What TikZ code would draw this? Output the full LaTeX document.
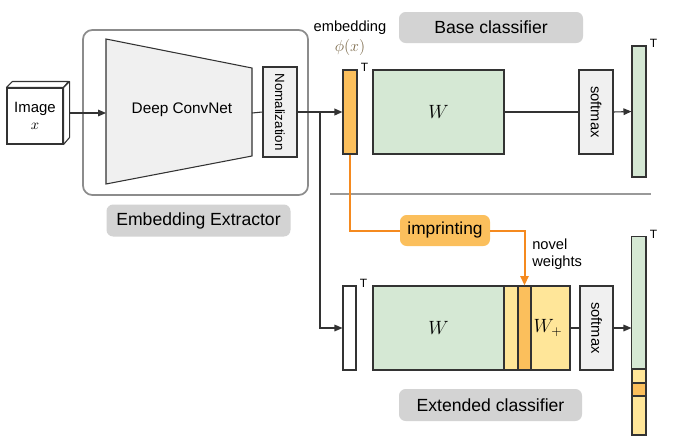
\documentclass[tikz,border=0pt]{standalone}
\usepackage{fontspec}
\setmainfont{Liberation Sans}
\usetikzlibrary{arrows.meta,calc}
\definecolor{boxgreen}{HTML}{D5E8D4}
\definecolor{boxgray}{HTML}{F0F0F0}
\definecolor{lblgray}{HTML}{D3D3D3}
\definecolor{embor}{HTML}{FBBF5C}
\definecolor{lineor}{HTML}{F58A1F}
\definecolor{wyellow}{HTML}{FFE699}
\definecolor{phicol}{HTML}{7A6848}
\definecolor{edge}{HTML}{333333}
\begin{document}
\begin{tikzpicture}[x=0.75pt,y=-0.75pt,
  every node/.style={inner sep=0pt},
  blk/.style={draw=edge,line width=0.8pt},
  lbl/.style={fill=lblgray,rounded corners=5pt,font=\fontsize{13.2}{15}\selectfont},
  conn/.style={draw=edge,line width=0.8pt},
  arr/.style={conn,-{Triangle[length=6pt,width=5pt]}},
  orline/.style={draw=lineor,line width=1.5pt},
  tmark/.style={font=\fontsize{9}{10}\selectfont,anchor=south west},
  small/.style={font=\fontsize{11}{12.5}\selectfont}]
\useasboundingbox (0,0) rectangle (674,446);

% image cube
\node[blk,fill=white,minimum width=42pt,minimum height=42pt,align=center,
  font=\fontsize{11.2}{14}\selectfont] (img) at (35,116) {Image\\[-1pt]$x$};
\draw[blk,fill=white,line join=round] (img.north west) -- ++(6,-6) -- ++(56,0) -- ($(img.north east)$) -- cycle;
\draw[blk,fill=white,line join=round] (img.north east) -- ++(6,-6) -- ++(0,56) -- (img.south east) -- cycle;
\coordinate (imgR) at ($(img.east)+(6,-3)$);

% extractor
\node[draw=black!45,line width=1.3pt,rounded corners=7pt,minimum width=168.75pt,minimum height=123.75pt] (ext) at (195.5,112.5) {};
\draw[blk,fill=boxgray] (106,39) coordinate (tzTL) -- (252,68) -- (252,156) -- (106,184) -- cycle;
\coordinate (tzL) at (106,113);
\coordinate (tzR) at (252,113);
\node[font=\fontsize{11.5}{13}\selectfont] (dcn) at (182,110) {Deep ConvNet};
\node[blk,fill=boxgray,minimum width=25.5pt,minimum height=67.5pt] (norm) at (280,112) {};
\node[font=\fontsize{10}{12}\selectfont,rotate=-90] (normt) at (norm.center) {Nomalization};
\node[lbl,minimum width=138pt,minimum height=24pt] (extl) at (198.5,220.5) {Embedding Extractor};

% base classifier
\node[lbl,minimum width=138pt,minimum height=23.25pt] (basel) at (491,27.5) {Base classifier};
\node[small] (embt) at (350,28) {embedding};
\node[font=\fontsize{12}{13}\selectfont,text=phicol] (phi) at (350,47) {$\phi(x)$};
\node[blk,fill=embor,minimum width=10.5pt,minimum height=63pt] (emb) at (350,112) {};
\node[tmark] at ($(emb.north east)+(3,2)$) {T};
\node[blk,fill=boxgreen,minimum width=98.25pt,minimum height=63pt] (W1) at (438.5,112) {\Large $W$};
\node[blk,fill=boxgray,minimum width=25.5pt,minimum height=63pt] (sm1) at (596,112) {};
\node[small,rotate=-90] at (sm1.center) {softmax};
\node[blk,fill=boxgreen,minimum width=10.5pt,minimum height=98.25pt] (out1) at (639,111.5) {};
\node[tmark] at ($(out1.north east)+(3,2)$) {T};

\draw[draw=black!40,line width=0.8pt] (330,194) coordinate (sepA) -- (651,194) coordinate (sepB);

% extended classifier
\node[fill=embor,rounded corners=5pt,minimum width=67.5pt,minimum height=23.25pt,font=\fontsize{13}{15}\selectfont] (imp) at (445,230.5) {imprinting};
\node[small,align=left,anchor=west] (novel) at (532,254) {novel\\weights};
\node[blk,fill=white,minimum width=9.75pt,minimum height=63pt] (emb2) at (349.5,328) {};
\node[tmark] at ($(emb2.north east)+(3,2)$) {T};
\node[blk,fill=boxgreen,minimum width=98.25pt,minimum height=63pt] (W2) at (438.5,328) {\Large $W$};
\node[blk,fill=wyellow,minimum width=49.5pt,minimum height=63pt] (Wp) at (537,328) {};
\node[blk,fill=embor,minimum width=9.75pt,minimum height=63pt] (col) at (524.5,328) {};
\node (Wpt) at (548,328) {\Large $W_{+}$};
\node[blk,fill=boxgray,minimum width=24.75pt,minimum height=63pt] (sm2) at (596.5,328) {};
\node[small,rotate=-90] at (sm2.center) {softmax};
\node[blk,fill=wyellow,minimum width=10.5pt,minimum height=148.5pt] (out2) at (639,336) {};
\draw[blk,fill=boxgreen] (out2.north west) rectangle (646,369);
\draw[blk,fill=embor] (632,383) rectangle (646,396);
\node[tmark] at ($(out2.north east)+(3,2)$) {T};
\node[lbl,minimum width=137.25pt,minimum height=24pt] (extcl) at (490.5,405) {Extended classifier};

% connectors
\draw[arr] (imgR) -- (tzL);
\draw[conn] (tzR) -- (norm.west);
\draw[arr,line width=1.1pt] (norm.east) -- (emb.west);
\coordinate (br) at (320,113);
\draw[arr] (br) |- (emb2.west);
\draw[conn] (W1.east) -- (sm1.west);
\draw[arr] (sm1.east) -- (out1.west);
\draw[conn] (Wp.east) -- (sm2.west);
\draw[arr] (sm2.east) -- (out2.west |- sm2.east);
\draw[orline] (emb.south) |- (imp.west);
\draw[orline,-{Triangle[length=7pt,width=6pt]}] (imp.east) -| (col.north);
\end{tikzpicture}
\end{document}
